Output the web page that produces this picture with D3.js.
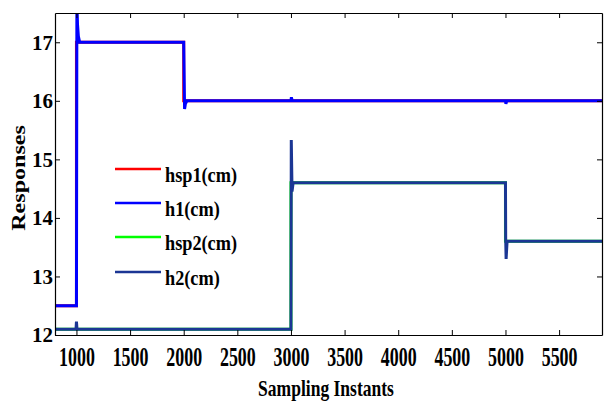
<!DOCTYPE html>
<html>
<head>
<meta charset="utf-8">
<script src="https://cdn.jsdelivr.net/npm/d3@7"></script>
<style>
  body { margin: 0; background: #fff; }
  text { font-family: "Liberation Serif", "Times New Roman", serif; font-weight: bold; }
</style>
</head>
<body>
<svg id="chart" width="604" height="403"></svg>
<script>
// axis ticks
const xTicks = [1000, 1500, 2000, 2500, 3000, 3500, 4000, 4500, 5000, 5500];
const yTicks = [12, 13, 14, 15, 16, 17];

// step responses as [sampling instant, value]
const hsp1 = [[800, 12.5], [1000, 12.5], [1000, 17], [2000, 17], [2000, 16], [5900, 16]];
const h1 = [[800, 12.5], [1000, 12.5], [1004, 17.7], [1010, 17.3], [1018, 17.1], [1030, 17.0],
            [2000, 17.0], [2008, 15.86], [2016, 15.95], [2030, 16.0], [3000, 16.0], [3004, 16.06],
            [3012, 16.0], [5000, 16.0], [5004, 15.95], [5012, 16.0], [5900, 16.0]];
const hsp2 = [[800, 12.1], [3000, 12.1], [3000, 14.6], [5000, 14.6], [5000, 13.6], [5900, 13.6]];
const h2 = [[800, 12.1], [996, 12.1], [1000, 12.23], [1005, 12.1], [3000, 12.1], [3003, 15.33],
            [3010, 14.45], [3020, 14.6], [5000, 14.6], [5002, 13.65], [5006, 13.3], [5015, 13.6],
            [5900, 13.6]];

const series = [
    { name: "hsp1(cm)", data: hsp1, color: "#ff0000" },
    { name: "h1(cm)", data: h1, color: "#0000ff" },
    { name: "hsp2(cm)", data: hsp2, color: "#00ff00" },
    { name: "h2(cm)", data: h2, color: "#1b3694" }
];

const svg = d3.select("#chart");
const margin = { top: 13, right: 2, bottom: 68, left: 55 };
const width = +svg.attr("width") - margin.left - margin.right;
const height = +svg.attr("height") - margin.top - margin.bottom;

const g = svg.append("g")
    .attr("transform", `translate(${margin.left},${margin.top})`);

const x = d3.scaleLinear().domain([800, 5900]).range([0, width]);
const y = d3.scaleLinear().domain([12, 17.5]).range([height, 0]);

g.append("clipPath").attr("id", "clip")
    .append("rect").attr("width", width).attr("height", height);

// Lines
const line = d3.line().x(d => x(d[0])).y(d => y(d[1]));
g.append("g").attr("clip-path", "url(#clip)")
    .selectAll("path")
    .data(series)
    .enter()
    .append("path")
    .attr("d", d => line(d.data))
    .attr("fill", "none")
    .attr("stroke", d => d.color)
    .attr("stroke-width", 3);

// Axes (box with inward ticks)
const bottom = g.append("g")
    .attr("transform", `translate(0,${height})`)
    .call(d3.axisBottom(x).tickValues(xTicks).tickFormat(d3.format("d"))
        .tickSize(-5).tickSizeOuter(0).tickPadding(11));
bottom.selectAll("text")
    .style("font-size", "28px")
    .attr("transform", "scale(0.64,1)");

const left = g.append("g")
    .call(d3.axisLeft(y).tickValues(yTicks).tickFormat(d3.format("d"))
        .tickSize(-5).tickSizeOuter(0).tickPadding(2));
left.selectAll("text").style("font-size", "21px");

g.append("g")
    .call(d3.axisTop(x).tickValues(xTicks).tickSize(-5).tickSizeOuter(0).tickFormat(""));
g.append("g")
    .attr("transform", `translate(${width},0)`)
    .call(d3.axisRight(y).tickValues(yTicks).tickSize(-5).tickSizeOuter(0).tickFormat(""));

g.selectAll(".domain").attr("stroke", "#000").attr("stroke-width", 1.2);

// Axis labels
svg.append("text")
    .attr("transform", "translate(326,396) scale(0.73,1)")
    .attr("text-anchor", "middle")
    .style("font-size", "24px")
    .text("Sampling Instants");

svg.append("text")
    .attr("transform", "translate(25,178) rotate(-90) scale(1.3,1)")
    .attr("text-anchor", "middle")
    .style("font-size", "18.5px")
    .text("Responses");

// Legend
const legendY = [169, 203, 237, 272];
const legend = svg.append("g");
series.forEach((s, i) => {
    legend.append("line")
        .attr("x1", 115).attr("x2", 161)
        .attr("y1", legendY[i]).attr("y2", legendY[i])
        .attr("stroke", s.color)
        .attr("stroke-width", 2.5);
    legend.append("text")
        .attr("transform", `translate(165,${legendY[i] + 12.5}) scale(0.83,1)`)
        .style("font-size", "22px")
        .text(s.name);
});
</script>
</body>
</html>
